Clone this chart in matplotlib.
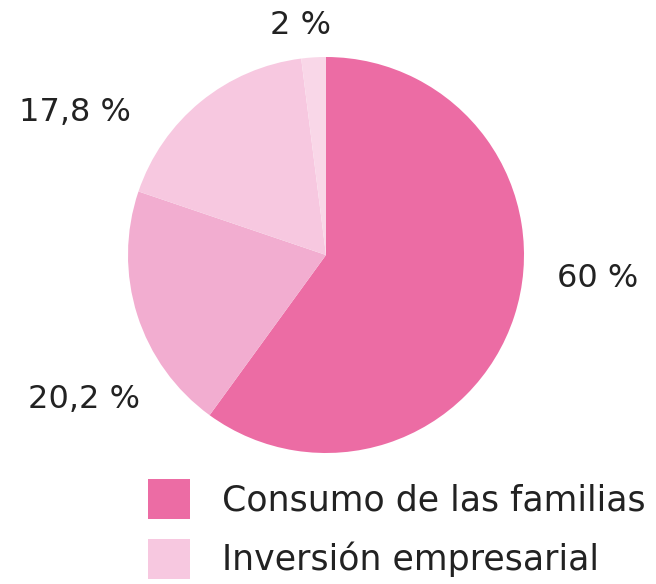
import matplotlib
matplotlib.use("Agg")
import matplotlib.pyplot as plt
from matplotlib.patches import Patch

values = [60, 20.2, 17.8, 2]
labels = ["60 %", "20,2 %", "17,8 %", "2 %"]
colors = ["#EC6CA4", "#F2ADD0", "#F7C8E0", "#F9D7E8"]
legend_labels = ["Consumo de las familias", "Inversión empresarial"]
legend_colors = ["#EC6CA4", "#F7C8E0"]

plt.rcParams['font.family'] = ['DejaVu Sans']

W, H = 656, 584
fig = plt.figure(figsize=(W / 100, H / 100), dpi=100)
cx, cy, r = 326, 255, 198
ax = fig.add_axes([(cx - r) / W, (H - cy - r) / H, 2 * r / W, 2 * r / H])
ax.pie(values, colors=colors, startangle=90, counterclock=False, radius=1,
       wedgeprops=dict(linewidth=0))
ax.set_xlim(-1, 1)
ax.set_ylim(-1, 1)
ax.set_aspect('equal')
ax.axis('off')

label_pos = [(1.37, -0.12), (-1.22, -0.73), (-1.27, 0.72), (-0.13, 1.16)]
for (x, y), t in zip(label_pos, labels):
    ax.text(x, y, t, ha='center', va='center', fontsize=23, color='#222222',
            clip_on=False)

handles = [Patch(facecolor=c, edgecolor='none') for c in legend_colors]
fig.legend(handles, legend_labels, loc='upper left',
           bbox_to_anchor=(134 / W, 1 - 465 / H), frameon=False,
           fontsize=25, handlelength=1.21, handleheight=1.42,
           handletextpad=0.92, labelspacing=0.55, borderaxespad=0,
           labelcolor='#222222')

fig.savefig("out.png", dpi=100)
